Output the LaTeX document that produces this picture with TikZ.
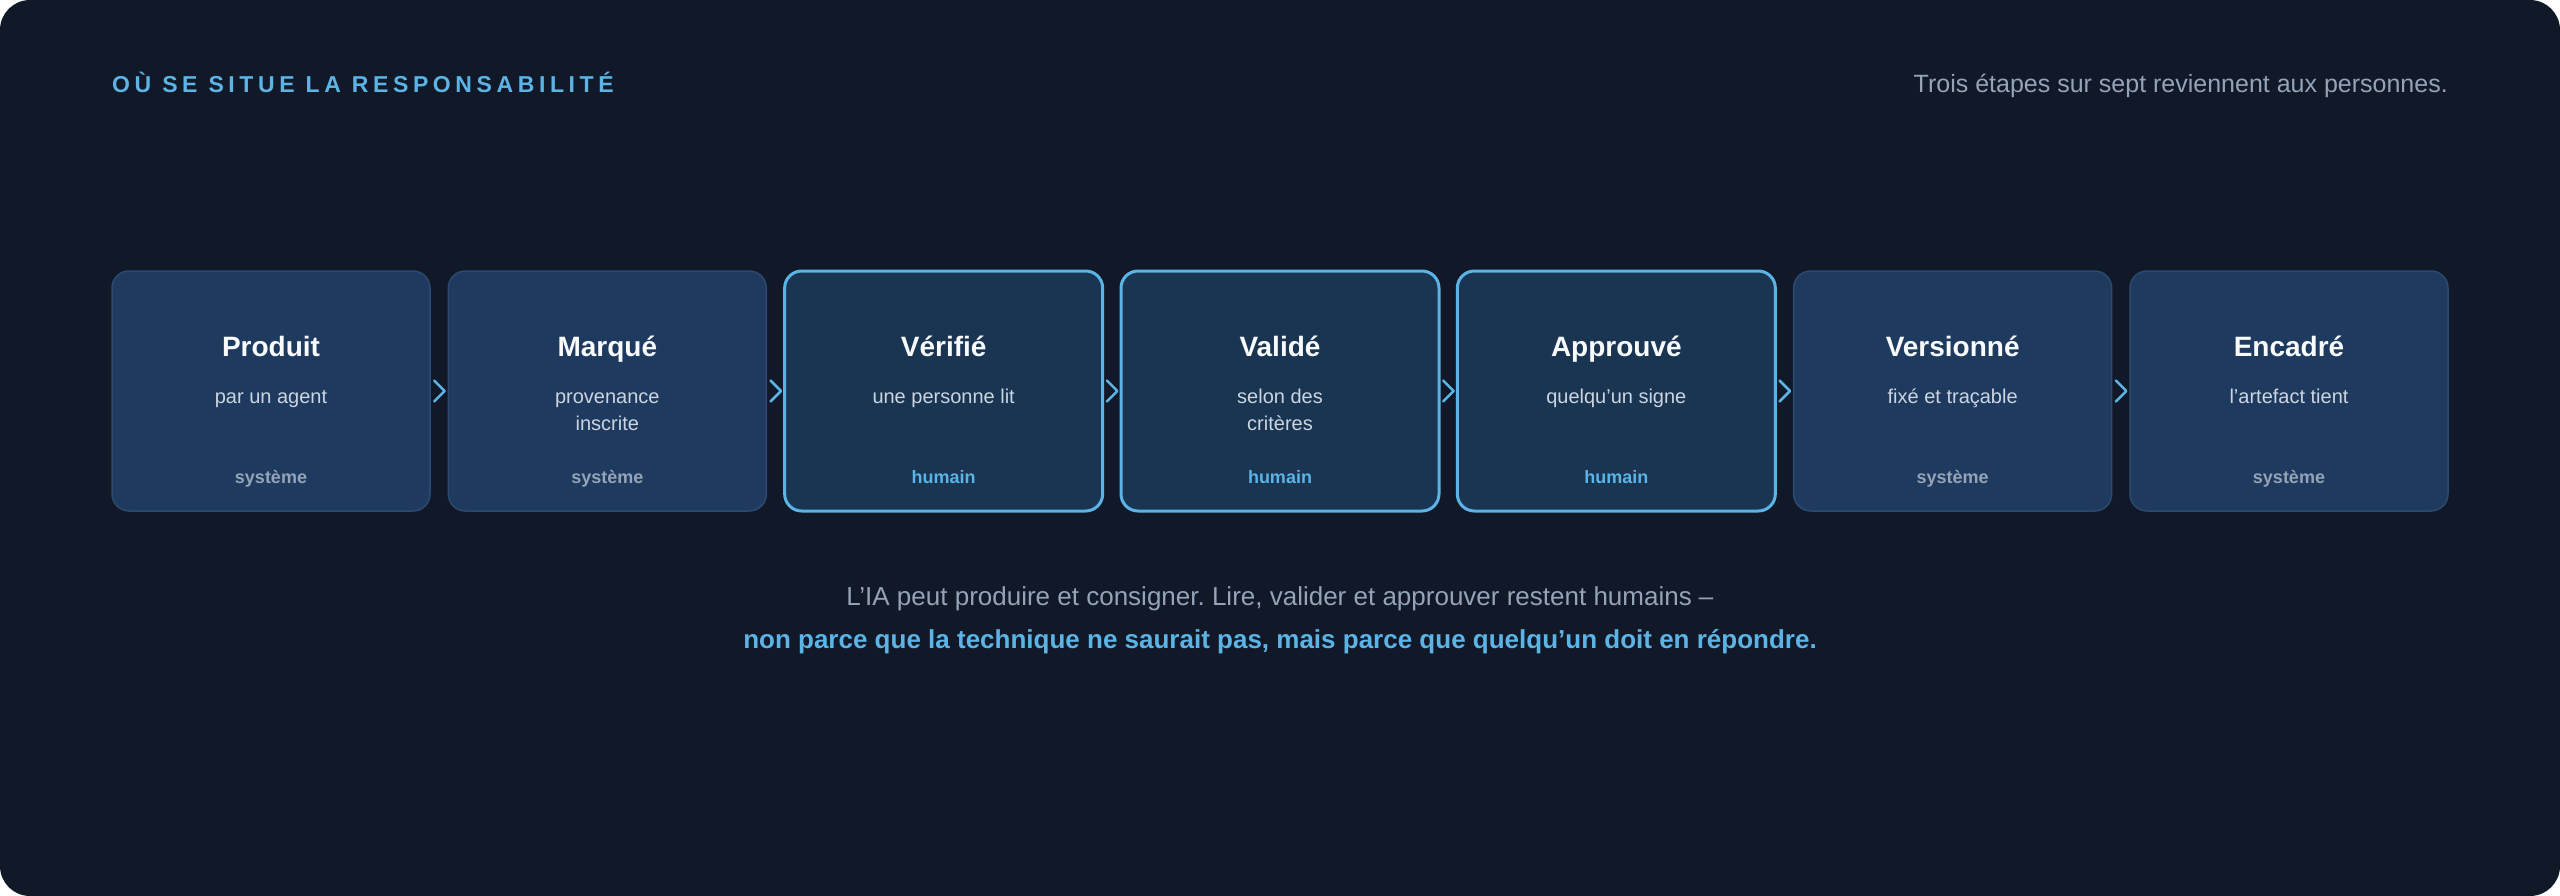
\documentclass[tikz,border=0pt]{standalone}
\usepackage{fontspec}
\setmainfont{Liberation Sans}
\newfontfamily\trackfont[LetterSpace=20]{Liberation Sans}
\frenchspacing
\usetikzlibrary{shapes,arrows,decorations.markings}
\definecolor{night}{HTML}{111827}
\definecolor{slatebox}{HTML}{1F3A5F}
\definecolor{humanbox}{HTML}{193552}
\definecolor{slateedge}{HTML}{2C4A70}
\definecolor{skyblue}{HTML}{5BB4E5}
\definecolor{mist}{HTML}{94A3B8}
\definecolor{haze}{HTML}{CBD5E1}
\definecolor{snow}{HTML}{F8FAFC}
\tikzstyle{sysblock} = [rectangle, draw=slateedge, line width=1.5pt, fill=slatebox,
    rounded corners=17pt, minimum width=318pt, minimum height=240pt, inner sep=0pt, outer sep=0pt]
\tikzstyle{humblock} = [sysblock, draw=skyblue, line width=3pt, fill=humanbox]
\tikzstyle{heading} = [anchor=base, inner sep=0pt, text=snow, font=\fontsize{28}{34}\selectfont\bfseries]
\tikzstyle{detail} = [anchor=base, inner sep=0pt, text=haze, align=center, font=\fontsize{20}{27}\selectfont]
\tikzstyle{syslabel} = [anchor=base, inner sep=0pt, text=mist, font=\fontsize{18}{22}\selectfont\bfseries]
\tikzstyle{humlabel} = [syslabel, text=skyblue]
\tikzstyle{line} = [postaction={decorate}, decoration={markings, mark=at position 0.5 with
    {\draw[skyblue, line width=2.5pt, line cap=round, line join=round] (-5,-10.5) -- (5.5,0) -- (-5,10.5);}}]

\begin{document}
\begin{tikzpicture}[x=1pt, y=-1pt, node distance=336.33pt]
    \useasboundingbox (0,0) rectangle (2560,896);
    \fill [white] (0,0) rectangle (2560,896);
    \fill [night, rounded corners=30pt] (0,0) rectangle (2560,896);
    % Header
    \node [anchor=base west, inner sep=0pt, text=skyblue, font=\fontsize{23}{28}\trackfont\bfseries] (title) at (112,93) {OÙ SE SITUE LA RESPONSABILITÉ};
    \node [anchor=base east, inner sep=0pt, text=mist, font=\fontsize{25}{30}\selectfont] (note) at (2448,93) {Trois étapes sur sept reviennent aux personnes.};
    % Place nodes
    \node [sysblock] (prod) at (271,391) {};
    \node [sysblock, right of=prod] (marq) {};
    \node [humblock, right of=marq] (verif) {};
    \node [humblock, right of=verif] (valid) {};
    \node [humblock, right of=valid] (approv) {};
    \node [sysblock, right of=approv] (vers) {};
    \node [sysblock, right of=vers] (encad) {};
    % Texts in the steps (two-line details sit on their last baseline)
    \node [heading] (prod-t) at ([yshift=-85pt]prod.north) {Produit};
    \node [detail] (prod-s) at ([yshift=-132pt]prod.north) {par un agent};
    \node [syslabel] (prod-r) at ([yshift=-212pt]prod.north) {système};
    \node [heading] (marq-t) at ([yshift=-85pt]marq.north) {Marqué};
    \node [detail] (marq-s) at ([yshift=-159pt]marq.north) {provenance\\inscrite};
    \node [syslabel] (marq-r) at ([yshift=-212pt]marq.north) {système};
    \node [heading] (verif-t) at ([yshift=-85pt]verif.north) {Vérifié};
    \node [detail] (verif-s) at ([yshift=-132pt]verif.north) {une personne lit};
    \node [humlabel] (verif-r) at ([yshift=-212pt]verif.north) {humain};
    \node [heading] (valid-t) at ([yshift=-85pt]valid.north) {Validé};
    \node [detail] (valid-s) at ([yshift=-159pt]valid.north) {selon des\\critères};
    \node [humlabel] (valid-r) at ([yshift=-212pt]valid.north) {humain};
    \node [heading] (approv-t) at ([yshift=-85pt]approv.north) {Approuvé};
    \node [detail] (approv-s) at ([yshift=-132pt]approv.north) {quelqu’un signe};
    \node [humlabel] (approv-r) at ([yshift=-212pt]approv.north) {humain};
    \node [heading] (vers-t) at ([yshift=-85pt]vers.north) {Versionné};
    \node [detail] (vers-s) at ([yshift=-132pt]vers.north) {fixé et traçable};
    \node [syslabel] (vers-r) at ([yshift=-212pt]vers.north) {système};
    \node [heading] (encad-t) at ([yshift=-85pt]encad.north) {Encadré};
    \node [detail] (encad-s) at ([yshift=-132pt]encad.north) {l’artefact tient};
    \node [syslabel] (encad-r) at ([yshift=-212pt]encad.north) {système};
    % Draw edges
    \path [line] (prod.east) -- (marq.west);
    \path [line] (marq.east) -- (verif.west);
    \path [line] (verif.east) -- (valid.west);
    \path [line] (valid.east) -- (approv.west);
    \path [line] (approv.east) -- (vers.west);
    \path [line] (vers.east) -- (encad.west);
    % Closing words
    \node [anchor=base, inner sep=0pt, text=mist, font=\fontsize{26}{32}\selectfont] (claim) at (1280,605) {L’IA peut produire et consigner. Lire, valider et approuver restent humains –};
    \node [anchor=base, inner sep=0pt, text=skyblue, font=\fontsize{26}{32}\selectfont\bfseries] (reason) at (1280,648) {non parce que la technique ne saurait pas, mais parce que quelqu’un doit en répondre.};
\end{tikzpicture}
\end{document}
